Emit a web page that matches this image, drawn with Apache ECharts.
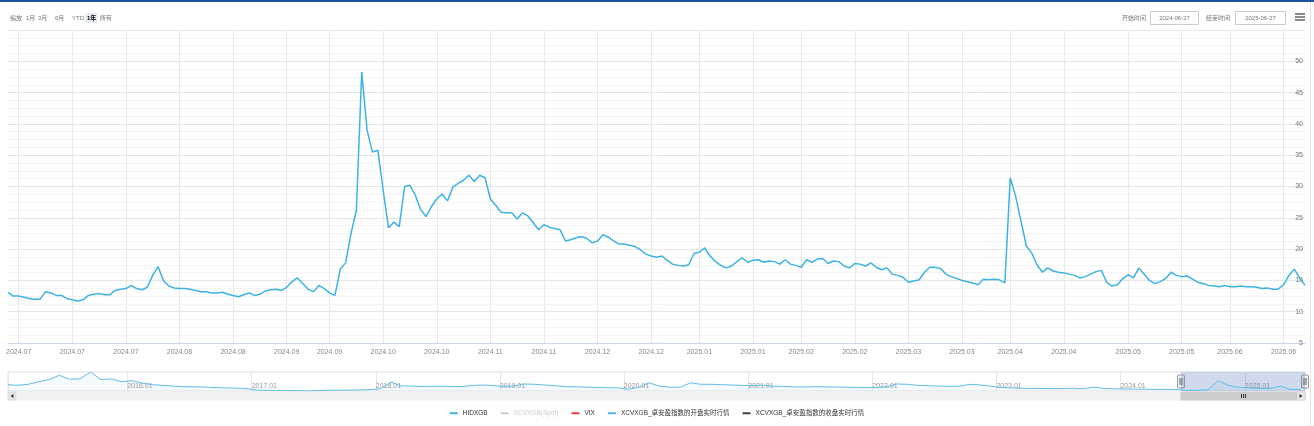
<!DOCTYPE html>
<html>
<head>
<meta charset="utf-8">
<script src="https://cdn.jsdelivr.net/npm/echarts@6/dist/echarts.min.js"></script>
<style>
html,body{margin:0;padding:0;background:#fff;}
#c{width:1314px;height:426px;}
</style>
</head>
<body>
<div id="c"></div>
<script>
// ---------- data ----------
const startDate = '2024-06-27';
const endDate = '2025-06-27';
const holidays = ['2024-09-16','2024-09-17','2024-10-01','2024-10-02','2024-10-03','2024-10-04','2024-10-07',
  '2025-01-01','2025-01-28','2025-01-29','2025-01-30','2025-01-31','2025-02-03','2025-02-04',
  '2025-04-04','2025-05-01','2025-05-02','2025-05-05','2025-06-02'];
const tickDates = ['2024-07-01','2024-07-15','2024-07-29','2024-08-12','2024-08-26','2024-09-09','2024-09-23',
  '2024-10-14','2024-10-28','2024-11-11','2024-11-25','2024-12-09','2024-12-23','2025-01-06','2025-01-20',
  '2025-02-10','2025-02-24','2025-03-10','2025-03-24','2025-04-07','2025-04-21','2025-05-12','2025-05-26',
  '2025-06-09','2025-06-23'];
const mainValues = [
  13.1,12.5,12.5,12.3,12.1,12.0,12.0,13.2,13.0,12.6,
  12.6,12.1,11.9,11.7,11.9,12.6,12.8,12.9,12.7,12.7,
  13.4,13.6,13.7,14.2,13.7,13.5,13.9,15.8,17.2,15.0,
  14.1,13.8,13.7,13.7,13.6,13.4,13.2,13.2,13.0,13.0,
  13.1,12.8,12.6,12.4,12.7,13.0,12.6,12.8,13.3,13.5,
  13.6,13.4,13.9,14.8,15.4,14.5,13.6,13.2,14.2,13.7,
  13.0,12.6,16.8,17.8,22.5,26.2,48.3,39.0,35.5,35.8,
  29.4,23.4,24.3,23.6,30.0,30.2,28.6,26.3,25.2,26.8,
  28.0,28.8,27.7,29.9,30.5,31.0,31.8,30.8,31.8,31.4,
  28.0,27.0,25.9,25.8,25.8,24.8,25.8,25.3,24.2,23.1,
  23.9,23.5,23.3,23.1,21.3,21.5,21.8,22.0,21.7,21.0,
  21.3,22.3,21.9,21.3,20.8,20.8,20.6,20.4,19.9,19.2,
  18.9,18.7,18.9,18.2,17.6,17.4,17.3,17.5,19.3,19.5,
  20.2,18.9,18.0,17.4,17.0,17.3,18.0,18.6,17.9,18.2,
  18.3,17.9,18.1,18.0,17.6,18.3,17.6,17.4,17.1,18.3,
  17.9,18.4,18.5,17.7,18.1,18.0,17.3,17.0,17.7,17.6,
  17.3,17.8,17.1,16.7,17.0,16.0,15.8,15.5,14.7,14.9,
  15.1,16.3,17.1,17.1,16.9,16.0,15.6,15.3,15.0,14.8,
  14.6,14.3,15.2,15.1,15.2,15.1,14.6,31.4,28.5,24.5,
  20.5,19.4,17.5,16.3,17.0,16.5,16.3,16.2,16.0,15.8,
  15.4,15.6,16.0,16.4,16.6,14.7,14.1,14.3,15.3,15.9,
  15.4,17.0,16.0,15.0,14.5,14.8,15.3,16.3,15.8,15.6,
  15.7,15.2,14.7,14.5,14.2,14.1,14.0,14.2,14.0,14.0,
  14.1,14.0,14.0,13.9,13.7,13.8,13.6,13.6,14.3,15.8,
  16.8,15.4,14.2
];
const yTickValues = [5,10,15,20,25,30,35,40,45,50];
// navigator: monthly readings from Jan 2015 to Jun 2025
const navFirstMonth = [2015, 0];
const navValues = [
  28.6,27.5,30,37,43,55,44,45,64,43,
  45,37,40,33,29,27,25,23.5,23,22.5,
  21,20,19.5,18.5,14,13.2,13.2,13.0,12.5,11.5,
  12.5,13.5,13.5,14,14.5,15,17.5,36,26,25,
  24,24.5,25,24,24,27,28,26,24.5,25.5,
  31,30,28,26,23.5,23,22,21.5,20.5,20,
  16.5,22,34,25,22,22,34,30,30,29,
  28,27,26.5,27.5,25,24,23,22.5,23.5,23,
  22.5,22,21.5,21,21,24,31,30,27,26,
  25,24.5,25,30,28,25,21.5,20,19,18.5,
  18.7,18,18.5,19,18,22,18.5,17.5,17,17,
  16.5,16,16,15.5,13,13.3,14.5,40,26,22,
  19.5,18.5,18,25,16,15.5
];
const navMin = '2015-01-15';
const navMax = '2025-06-27';
const legendNames = ['HIDXGB','XCVXGB(Spot)','VIX','XCVXGB_卓安盈指数的开盘实时行情','XCVXGB_卓安盈指数的收盘实时行情'];
const rangeButtons = ['1月','3月','6月','YTD','1年','所有'];
const selectedButton = '1年';

// ---------- build categories (trading days) ----------
function fmt(d){const m=d.getUTCMonth()+1, dd=d.getUTCDate();return d.getUTCFullYear()+'-'+(m<10?'0':'')+m+'-'+(dd<10?'0':'')+dd;}
const hol = new Set(holidays);
const categories = [];
{
  let d = new Date(startDate+'T00:00:00Z'); const e = new Date(endDate+'T00:00:00Z');
  while (d <= e) { const wd=d.getUTCDay(); const s=fmt(d); if (wd!==0 && wd!==6 && !hol.has(s)) categories.push(s); d = new Date(d.getTime()+86400000); }
}
const tickSet = new Set(tickDates.map(t => categories.indexOf(t)));
const navData = navValues.map((v,i) => [Date.UTC(navFirstMonth[0], navFirstMonth[1]+i, 15), v]);

const FONT = '"Liberation Sans","Noto Sans CJK SC",sans-serif';
const LINE = '#3db3e3';

const chart = echarts.init(document.getElementById('c'), null, {renderer:'canvas'});
const tickFn = (idx) => tickSet.has(idx);

const option = {
  animation: false,
  backgroundColor: '#fff',
  textStyle: {fontFamily: FONT},
  grid: [
    {left: 8, right: 9, top: 30, bottom: 83},
    {left: 8, right: 9, top: 372, height: 19, show: true, borderColor: '#e0e0e0', borderWidth: 1, backgroundColor: 'rgba(0,0,0,0)'}
  ],
  legend: {
    data: legendNames,
    top: 405, left: 'center',
    icon: 'rect', itemWidth: 8, itemHeight: 2, itemGap: 13,
    textStyle: {fontSize: 6.5, color: '#333', fontFamily: FONT},
    inactiveColor: '#ccc',
    selected: {'XCVXGB(Spot)': false}
  },
  xAxis: [
    {
      type: 'category', gridIndex: 0, data: categories, boundaryGap: false,
      axisLine: {lineStyle: {color: '#ccd6eb'}},
      axisTick: {show: false},
      axisLabel: {interval: tickFn, formatter: v => v.slice(0,4)+'.'+v.slice(5,7), fontSize: 7, color: '#888', margin: 6, fontFamily: FONT},
      splitLine: {show: true, interval: tickFn, lineStyle: {color: '#e9e9e9', width: 1}}
    },
    {
      type: 'time', gridIndex: 1, min: navMin, max: navMax,
      minInterval: 365*86400000, maxInterval: 366*86400000,
      axisLine: {show: false}, axisTick: {show: false},
      axisLabel: {inside: true, align: 'left', margin: 1, fontSize: 7, color: '#999', fontFamily: FONT,
        formatter: v => { const d = new Date(v); const m = d.getUTCMonth()+1; return d.getUTCFullYear()+'.'+(m<10?'0':'')+m; }},
      splitLine: {show: true, lineStyle: {color: '#e6e6e6'}}
    }
  ],
  yAxis: [
    {
      type: 'value', gridIndex: 0, position: 'right', min: 5, max: 55, interval: 5,
      axisLine: {show: false}, axisTick: {show: false},
      axisLabel: {inside: true, margin: 2, fontSize: 7, color: '#777', showMaxLabel: false, fontFamily: FONT,
        formatter: v => yTickValues.indexOf(v) >= 0 ? String(v) : ''},
      splitLine: {lineStyle: {color: '#e6e6e6'}},
      minorTick: {show: false, splitNumber: 4},
      minorSplitLine: {show: true, lineStyle: {color: '#f4f4f4'}}
    },
    {type: 'value', gridIndex: 1, show: false, min: 'dataMin', max: 'dataMax', splitLine: {show: false}}
  ],
  series: [
    {name: legendNames[0], type: 'line', xAxisIndex: 0, yAxisIndex: 0, data: mainValues, showSymbol: false,
      color: LINE, lineStyle: {width: 1.5, color: LINE}},
    {name: legendNames[1], type: 'line', xAxisIndex: 0, yAxisIndex: 0, data: [], color: '#cccccc'},
    {name: legendNames[2], type: 'line', xAxisIndex: 0, yAxisIndex: 0, data: [], color: '#f03c3c'},
    {name: legendNames[3], type: 'line', xAxisIndex: 0, yAxisIndex: 0, data: [], color: '#4fb4e6'},
    {name: legendNames[4], type: 'line', xAxisIndex: 0, yAxisIndex: 0, data: [], color: '#434348'},
    {name: 'navigator', type: 'line', xAxisIndex: 1, yAxisIndex: 1, data: navData, showSymbol: false, silent: true,
      lineStyle: {width: 1, color: '#62bde6'}, areaStyle: {color: 'rgba(98,189,230,0.10)'},
      markArea: {silent: true, itemStyle: {color: 'rgba(102,133,194,0.3)'},
        data: [[{xAxis: startDate}, {xAxis: endDate}]]}}
  ]
};
chart.setOption(option);

// ---------- decorations ----------
const g = [];
g.push({type: 'rect', shape: {x: 0, y: 0, width: 1314, height: 2}, style: {fill: '#1f4f9f'}});
g.push({type: 'line', shape: {x1: 1310.5, y1: 2, x2: 1310.5, y2: 426}, style: {stroke: '#e3e3e3', lineWidth: 1}});
// range selector
g.push({type: 'text', style: {text: '缩放', x: 10, y: 18, fontSize: 6, fill: '#777', fontFamily: FONT, verticalAlign: 'middle'}});
const btnX = [26, 38, 55, 72, 87, 100];
rangeButtons.forEach((b, i) => {
  const sel = b === selectedButton;
  if (sel) g.push({type: 'rect', shape: {x: btnX[i]-1.5, y: 13, width: 12, height: 10, r: 1}, style: {fill: '#e6ebf5'}});
  g.push({type: 'text', style: {text: b, x: btnX[i], y: 18, fontSize: 6, fill: sel ? '#000' : '#777', fontWeight: sel ? 'bold' : 'normal', fontFamily: FONT, verticalAlign: 'middle'}});
});
// date inputs
g.push({type: 'text', style: {text: '开始时间', x: 1146, y: 18, fontSize: 6, fill: '#777', fontFamily: FONT, align: 'right', verticalAlign: 'middle'}});
g.push({type: 'rect', shape: {x: 1150.5, y: 11.5, width: 48, height: 13}, style: {fill: '#fff', stroke: '#cccccc', lineWidth: 1}});
g.push({type: 'text', style: {text: startDate, x: 1174.5, y: 18, fontSize: 6, fill: '#777', fontFamily: FONT, align: 'center', verticalAlign: 'middle'}});
g.push({type: 'text', style: {text: '结束时间', x: 1230, y: 18, fontSize: 6, fill: '#777', fontFamily: FONT, align: 'right', verticalAlign: 'middle'}});
g.push({type: 'rect', shape: {x: 1235.5, y: 11.5, width: 50, height: 13}, style: {fill: '#fff', stroke: '#cccccc', lineWidth: 1}});
g.push({type: 'text', style: {text: endDate, x: 1260.5, y: 18, fontSize: 6, fill: '#777', fontFamily: FONT, align: 'center', verticalAlign: 'middle'}});
[14, 17, 20].forEach(y => g.push({type: 'rect', shape: {x: 1295, y: y-0.75, width: 10, height: 1.5}, style: {fill: '#666'}}));

// navigator selection handles + scrollbar
const sx1 = chart.convertToPixel({xAxisIndex: 1}, new Date(startDate+'T00:00:00Z').getTime());
const sx2 = chart.convertToPixel({xAxisIndex: 1}, new Date(endDate+'T00:00:00Z').getTime());
g.push({type: 'rect', shape: {x: 8, y: 392, width: 1297, height: 8}, style: {fill: '#f2f2f2', stroke: '#f2f2f2'}});
g.push({type: 'rect', shape: {x: sx1, y: 392, width: sx2 - sx1, height: 8}, style: {fill: '#cccccc', stroke: '#cccccc'}});
[-2, 0, 2].forEach(o => g.push({type: 'line', shape: {x1: (sx1+sx2)/2 + o + 0.5, y1: 394, x2: (sx1+sx2)/2 + o + 0.5, y2: 398}, style: {stroke: '#333', lineWidth: 1}}));
g.push({type: 'rect', shape: {x: 8, y: 392, width: 8, height: 8}, style: {fill: '#e6e6e6', stroke: '#cccccc', lineWidth: 0.5}});
g.push({type: 'polygon', shape: {points: [[13.5, 394], [13.5, 398], [10.5, 396]]}, style: {fill: '#333'}});
g.push({type: 'rect', shape: {x: 1297, y: 392, width: 8, height: 8}, style: {fill: '#e6e6e6', stroke: '#cccccc', lineWidth: 0.5}});
g.push({type: 'polygon', shape: {points: [[1299.5, 394], [1299.5, 398], [1302.5, 396]]}, style: {fill: '#333'}});
[sx1, sx2].forEach(x => {
  g.push({type: 'rect', shape: {x: x - 3.5, y: 375, width: 7, height: 13, r: 1}, style: {fill: '#f2f2f2', stroke: '#999999', lineWidth: 1}});
  g.push({type: 'line', shape: {x1: x - 1, y1: 378, x2: x - 1, y2: 385}, style: {stroke: '#333', lineWidth: 0.8}});
  g.push({type: 'line', shape: {x1: x + 1, y1: 378, x2: x + 1, y2: 385}, style: {stroke: '#333', lineWidth: 0.8}});
});
chart.setOption({graphic: g});
</script>
</body>
</html>
